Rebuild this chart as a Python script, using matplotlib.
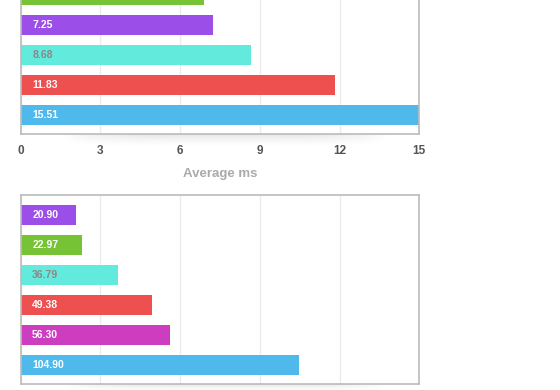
import matplotlib
matplotlib.use("Agg")
import matplotlib.pyplot as plt
import numpy as np

plt.rcParams['font.family'] = ['Liberation Sans', 'DejaVu Sans']

# top panel (bottom bar first)
top_values = [15.51, 11.83, 8.68, 7.25, 6.89]
top_colors = ["#4fb9eb", "#ee4f4f", "#62eadc", "#9b4fe8", "#76c436"]
top_ticks = [0, 3, 6, 9, 12, 15]

# bottom panel (bottom bar first)
bottom_values = [104.90, 56.30, 49.38, 36.79, 22.97, 20.90]
bottom_colors = ["#4fb9eb", "#cc3dbf", "#ee4f4f", "#62eadc", "#76c436", "#9b4fe8"]
bottom_ticks = [0, 30, 60, 90, 120, 150]

W, H = 560, 390
fig = plt.figure(figsize=(W / 100, H / 100), dpi=100)

def px_axes(x0, y0, x1, y1):
    # pixel box (top-left origin) -> figure axes
    return fig.add_axes([x0 / W, 1 - y1 / H, (x1 - x0) / W, (y1 - y0) / H])

def shadow(x0, x1, y0, h):
    sax = px_axes(x0, y0, x1, y0 + h)
    xs = np.linspace(-1, 1, 200)
    ys = np.linspace(0, 1, 20)
    X, Y = np.meshgrid(xs, ys)
    a = (1 - Y) ** 1.5 * (1 - np.abs(X) ** 4) * 0.10
    img = np.zeros((20, 200, 4))
    img[..., 3] = a
    sax.imshow(img, aspect="auto", extent=[0, 1, 0, 1])
    sax.axis("off")
    sax.set_zorder(-1)

def panel(ax, values, colors, ticks, show_ticks, top_px):
    n = len(values)
    y = np.arange(n)
    ax.barh(y, values, height=2 / 3, color=colors, zorder=2)
    ax.set_xlim(ticks[0], ticks[-1])
    ax.set_ylim(-0.633, n - 1 + 0.667)
    ax.set_xticks(ticks)
    ax.set_yticks([])
    ax.grid(axis="x", color="#ebebeb", linewidth=1, zorder=0)
    ax.set_axisbelow(True)
    for s in ax.spines.values():
        s.set_color("#bbbbbb")
        s.set_linewidth(1.2)
    ax.tick_params(axis="x", length=0, pad=8, labelsize=8.5,
                   labelcolor="#555555")
    for lab in ax.get_xticklabels():
        lab.set_fontweight("bold")
    if not show_ticks:
        ax.set_xticklabels([])
    off = (ticks[-1] - ticks[0]) * 11.5 / 398.6
    for yi, v, c in zip(y, values, colors):
        # bar label only where the bar centre is inside the picture
        if top_px + (n - 1 + 0.667 - yi) * 30 < 4:
            continue
        tc = "#888888" if c == "#62eadc" else "white"
        ax.text(off, yi, "%.2f" % v, ha="left", va="center", fontsize=7.5,
                fontweight="bold", color=tc, zorder=3, clip_on=True)

shadow(60, 390, 134, 14)
shadow(60, 390, 384, 8)

ax1 = px_axes(20.7, -25, 419.3, 134)
panel(ax1, top_values, top_colors, top_ticks, True, -25)
ax1.set_xlabel("Average ms", fontsize=9.5, fontweight="bold", color="#aaaaaa",
               labelpad=8)

ax2 = px_axes(20.7, 195, 419.3, 384)
panel(ax2, bottom_values, bottom_colors, bottom_ticks, False, 195)

fig.savefig("out.png", dpi=100)
